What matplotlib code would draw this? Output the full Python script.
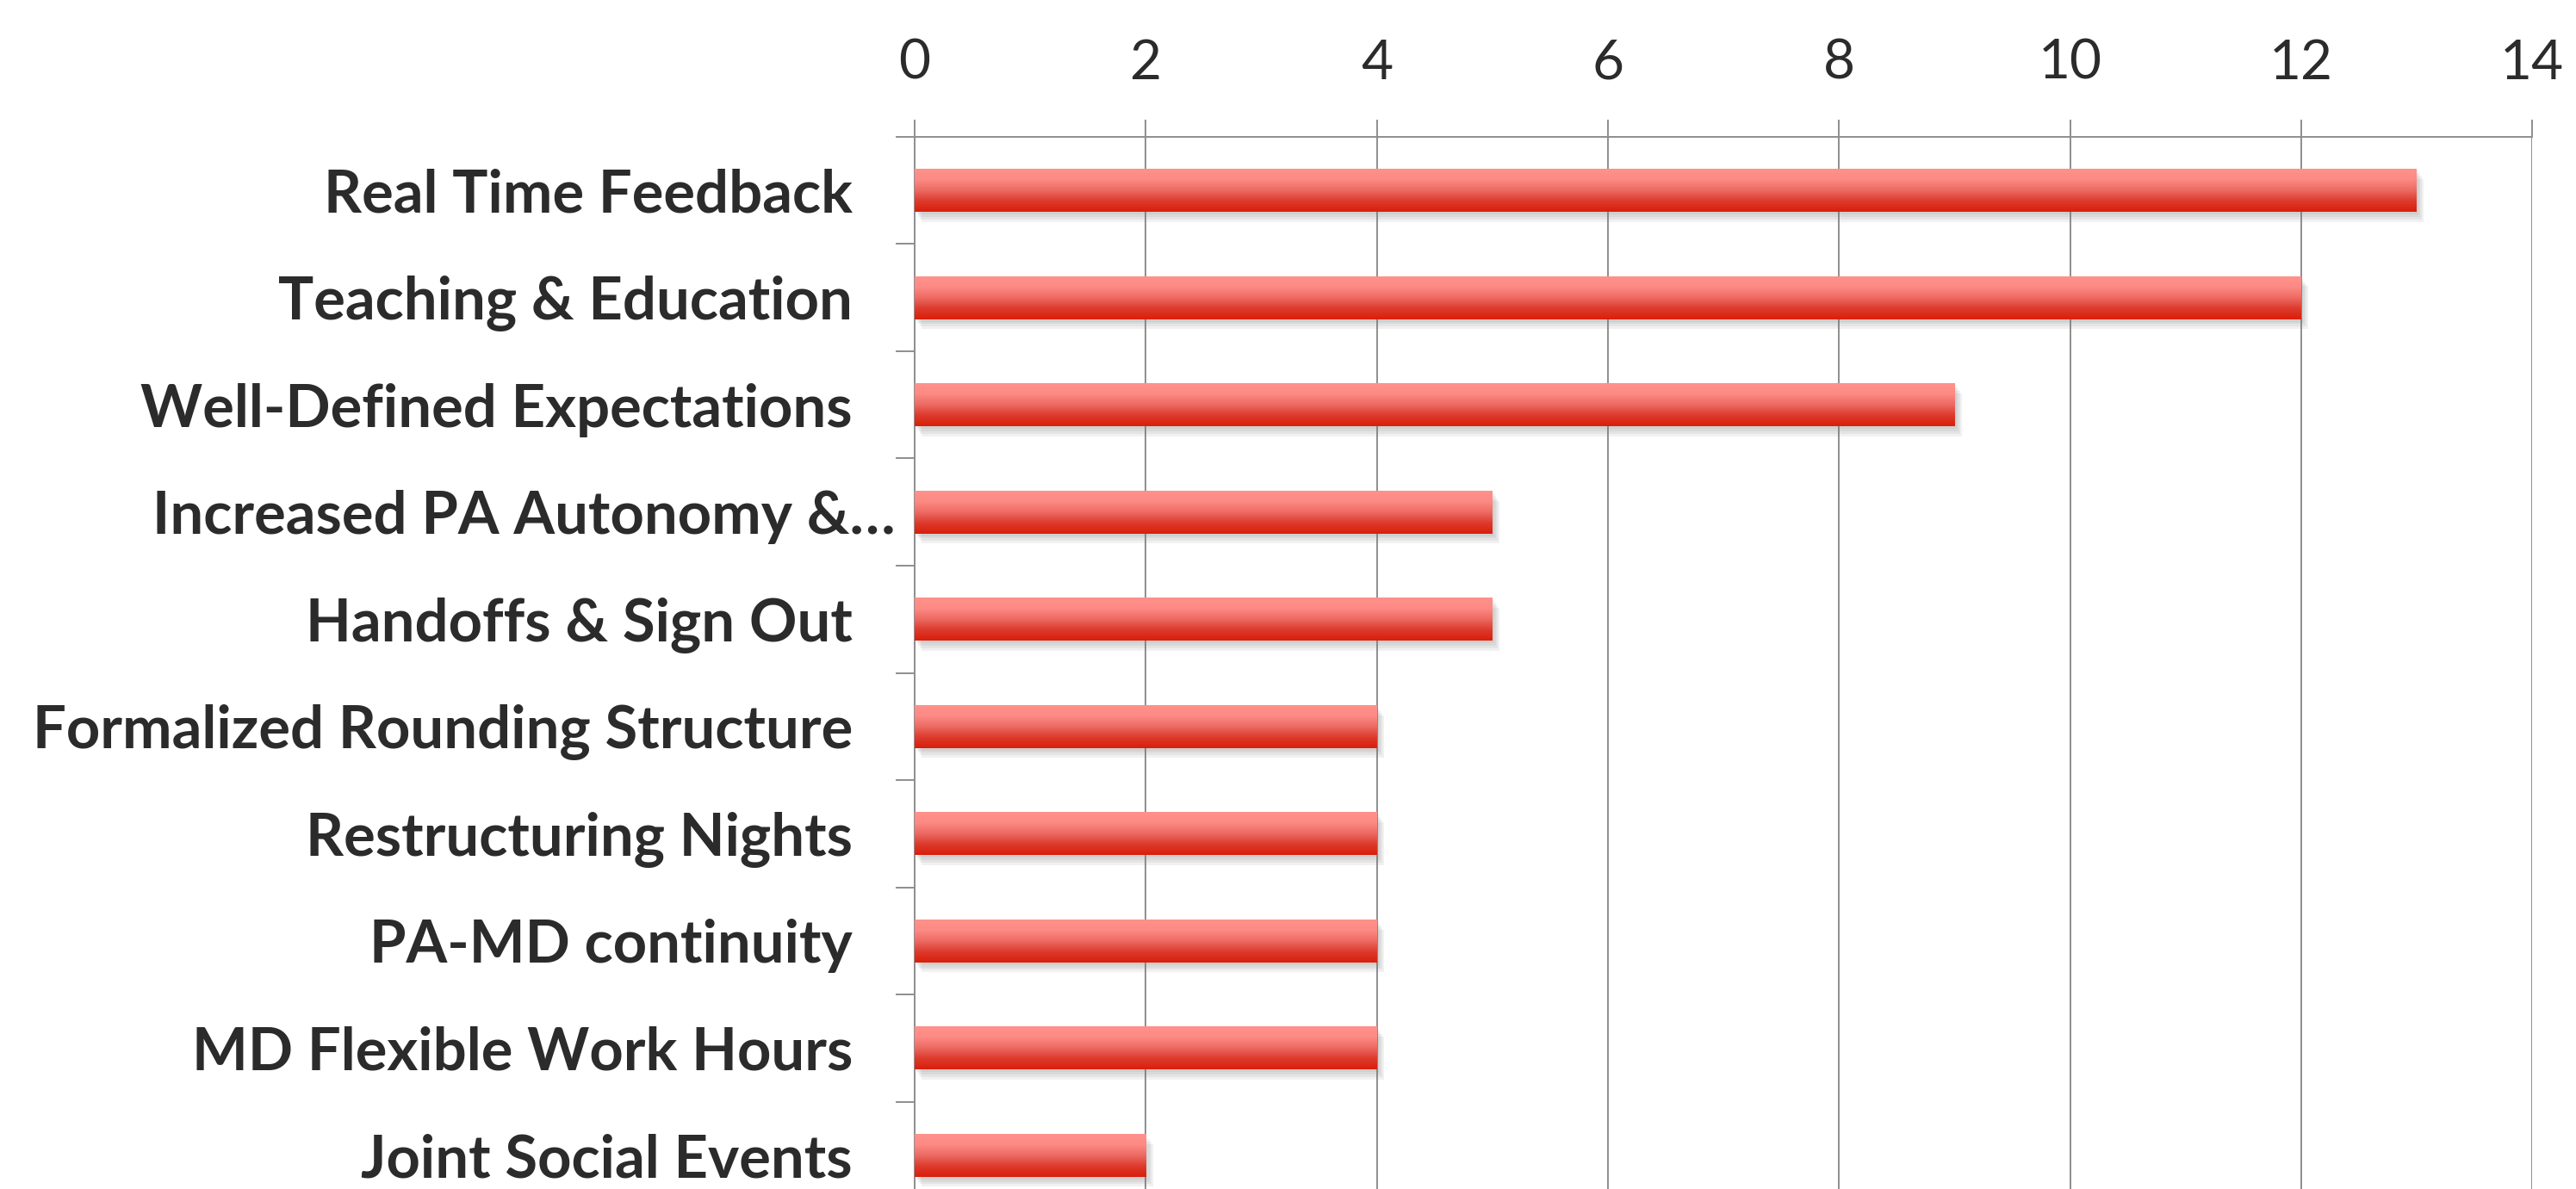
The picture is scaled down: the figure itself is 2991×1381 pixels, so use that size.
import numpy as np
import matplotlib
matplotlib.use("Agg")
import matplotlib.pyplot as plt
from matplotlib import patheffects
from matplotlib.colors import LinearSegmentedColormap
from matplotlib.transforms import ScaledTranslation

categories = [
    "Real Time Feedback",
    "Teaching & Education",
    "Well-Defined Expectations",
    "Increased PA Autonomy &\u2026",
    "Handoffs & Sign Out",
    "Formalized Rounding Structure",
    "Restructuring Nights",
    "PA-MD continuity",
    "MD Flexible Work Hours",
    "Joint Social Events",
]
counts = [13, 12, 9, 5, 5, 4, 4, 4, 4, 2]
x_ticks = [0, 2, 4, 6, 8, 10, 12, 14]

grid_col = "#8e8e8e"
text_col = "#2b2b2b"

plt.rcParams["font.family"] = ["Lato", "DejaVu Sans"]

fig = plt.figure(figsize=(29.91, 13.81), dpi=100)
ax = fig.add_axes([0.3551, -0.0167, 0.6279, 0.9016])

ypos = np.arange(len(categories))
bars = ax.barh(ypos, counts, height=0.4, color="#ee5a50", zorder=3)

# soft blurred shadow below/right of each bar
shadow = [patheffects.SimplePatchShadow(offset=(o, -1.4 * o), shadow_rgbFace="#7a7a7a", alpha=0.10)
          for o in (1.5, 3, 4.5, 6)]
for b in bars:
    b.set_path_effects(shadow + [patheffects.Normal()])

# vertical gradient fill, light on top, deep red at the bottom
grad_cmap = LinearSegmentedColormap.from_list("redgrad", ["#ff918b", "#fd8a84", "#ec6a62", "#dd3a2c", "#d91e0a"])
grad = np.linspace(0, 1, 256).reshape(-1, 1)
for b in bars:
    x0, y0 = b.get_x(), b.get_y()
    w, h = b.get_width(), b.get_height()
    im = ax.imshow(grad, cmap=grad_cmap, aspect="auto", extent=[x0, x0 + w, y0 + h, y0],
                   origin="upper", zorder=4, interpolation="bicubic")
    im.set_clip_path(b)

ax.set_xlim(0, 14)
ax.set_ylim(len(categories) - 0.5, -0.5)

ax.xaxis.tick_top()
ax.set_xticks(x_ticks)
ax.set_xticklabels([str(t) for t in x_ticks])
ax.tick_params(axis="x", which="major", length=14.4, width=1.4, color=grid_col, pad=26,
               labelsize=46, labelcolor=text_col)
ax.grid(axis="x", color=grid_col, linewidth=1.4, zorder=0)

ax.set_yticks(ypos)
ax.set_yticklabels(categories, fontweight="bold")
ax.set_yticks(np.arange(len(categories) + 1) - 0.5, minor=True)
ax.tick_params(axis="y", which="major", length=0, pad=52, labelsize=49.5, labelcolor=text_col)
ax.tick_params(axis="y", which="minor", length=16, width=1.4, color=grid_col)

# the truncated label runs further right than the rest, as in the original
lab = ax.get_yticklabels()[3]
lab.set_transform(lab.get_transform() + ScaledTranslation(0.5, 0, fig.dpi_scale_trans))

for side in ["right", "bottom"]:
    ax.spines[side].set_visible(False)
for side in ["left", "top"]:
    ax.spines[side].set_color(grid_col)
    ax.spines[side].set_linewidth(1.4)

fig.savefig("out.png", dpi=100)
